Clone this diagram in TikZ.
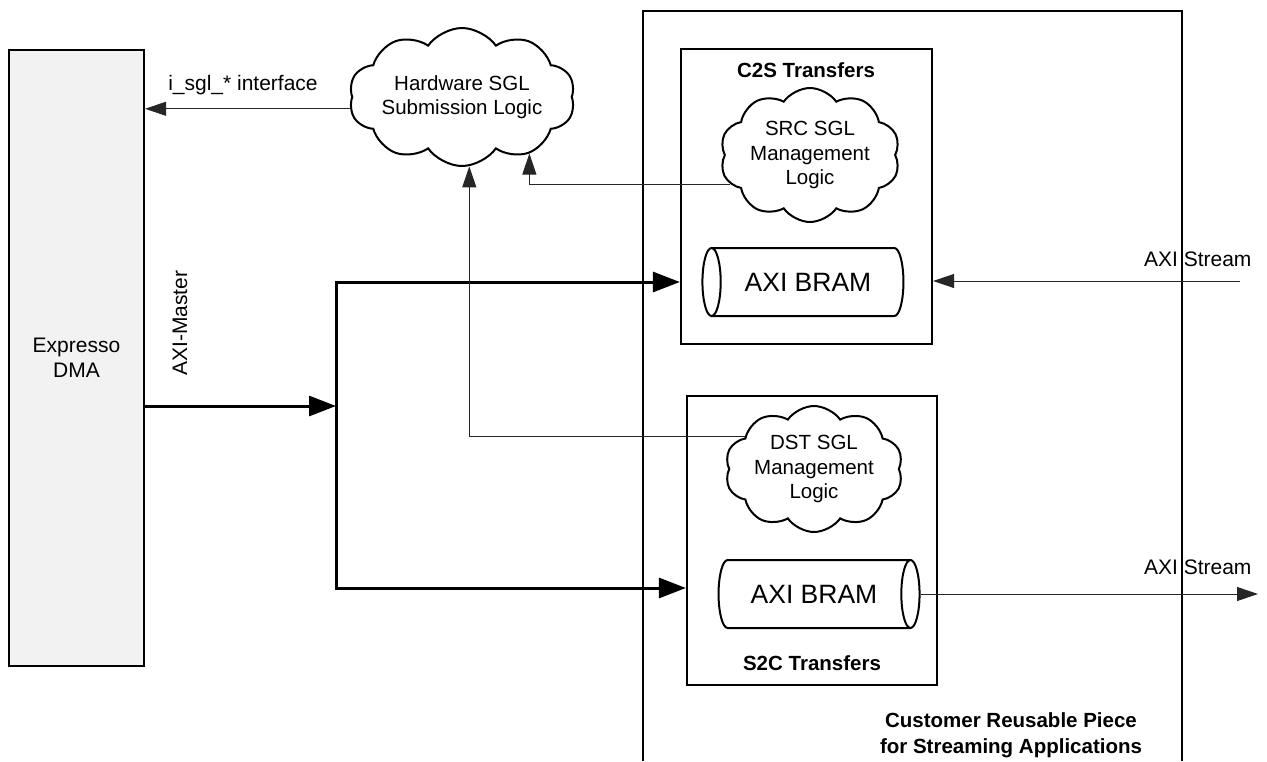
\documentclass[tikz,border=0pt]{standalone}
\usepackage{fontspec}
\setmainfont{Liberation Sans}
\usetikzlibrary{arrows.meta,shapes.geometric,shapes.symbols,positioning,calc}

\begin{document}
\begin{tikzpicture}
[x=1pt,y=-1pt,font=\fontsize{21}{25}\selectfont,
sig/.style={black!85,line width=1pt,>={Triangle[length=21pt,width=14pt]}},
bus/.style={black,line width=3pt,>={Triangle[length=27pt,width=20pt]}},
block/.style={draw=black,line width=2.2pt,inner sep=0pt},
title/.style={font=\fontsize{20.5}{26}\selectfont\bfseries,align=center},
puff/.style={draw=black,line width=2pt,cloud,cloud puffs=10,cloud puff arc=110,
  cloud ignores aspect,align=center,inner sep=0pt,font=\fontsize{20.5}{24.5}\selectfont},
bram/.style={draw=black,line width=2pt,cylinder,aspect=1,minimum width=68pt,
  minimum height=201pt,inner sep=0pt,font=\fontsize{26.5}{30}\selectfont}]
\useasboundingbox (0,0) rectangle (1267,761);
%%
\node[block,fill=black!5,minimum width=135pt,minimum height=616pt,align=center]
(dma) at (76.5,358) {Expresso\\DMA};
\node[rotate=90] (master) at (180,323) {AXI-Master};
%%
\node[puff,minimum width=205pt,minimum height=138pt] (hw) at (462,97)
{Hardware SGL\\Submission Logic};
\node (iface) at (243,85) {i\_sgl\_* interface};
%%
\draw[line width=2.2pt] (643,761) -- (643,11) -- (1182,11) -- (1182,761);
\node[title] (reuse) at (1011,735)
{Customer Reusable Piece\\for Streaming Applications};
%%
\node[block,minimum width=251pt,minimum height=295pt] (c2s) at (806.5,196.5) {};
\node[title] (c2stitle) at (806,70) {C2S Transfers};
\node[puff,minimum width=180pt,minimum height=134pt] (src) at (810,155)
{SRC SGL\\Management\\Logic};
\node[bram,shape border rotate=180] (bram1) at (808,282) {AXI BRAM};
%%
\node[block,minimum width=250pt,minimum height=289pt] (s2c) at (812,540.5) {};
\node[title] (s2ctitle) at (812,663) {S2C Transfers};
\node[puff,minimum width=178pt,minimum height=126pt] (dst) at (814,469)
{DST SGL\\Management\\Logic};
\node[bram] (bram2) at (814,594) {AXI BRAM};
%%
\node[anchor=east] (instream) at (1255,259) {AXI Stream};
\node[anchor=east] (outstream) at (1255,567) {AXI Stream};
\coordinate (inend) at (1240,281);
\coordinate (outend) at (1258,593);
%%
\coordinate (split) at (336,406);
\coordinate (bustop) at (336,282);
\coordinate (busbot) at (336,588);
\draw[bus,->] (dma.east |- split) -- (split);
\draw[bus,<->] (bustop -| c2s.west) -- (bustop) -- (busbot) -- (busbot -| s2c.west);
%%
\draw[sig,->] (hw.186) -- (hw.186 -| dma.east);
\draw[sig,->] (src.200) -| (hw.-40);
\draw[sig,->] (dst.155) -| (hw.-84);
\draw[sig,->] (inend) -- (inend -| c2s.east);
\draw[sig,->] (bram2.east) -- (bram2.east -| outend);
\end{tikzpicture}
\end{document}
